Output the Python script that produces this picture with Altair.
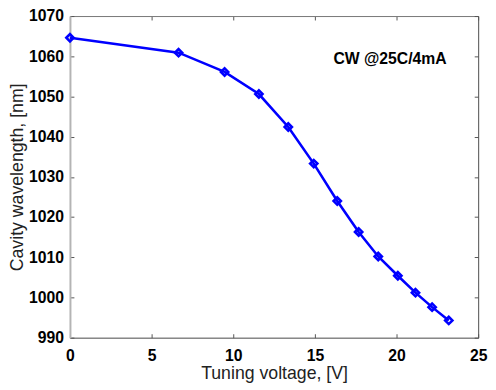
import altair as alt
import pandas as pd

voltage = [0.0, 6.65, 9.47, 11.57, 13.37, 14.93, 16.37, 17.68, 18.88, 20.08, 21.16, 22.18, 23.2]
wavelength = [1064.6, 1060.9, 1056.1, 1050.6, 1042.4, 1033.3, 1024.0, 1016.3, 1010.2, 1005.4, 1001.2, 997.6, 994.3]
x_ticks = [0, 5, 10, 15, 20, 25]
y_ticks = [990, 1000, 1010, 1020, 1030, 1040, 1050, 1060, 1070]
note = "CW @25C/4mA"
note_x = 19.6
note_y = 1059.2

df = pd.DataFrame({"v": voltage, "w": wavelength})
font = "Liberation Sans"
inward = alt.ExprRef(expr="-4")

xscale = alt.Scale(domain=[0, 25], nice=False)
yscale = alt.Scale(domain=[990, 1070], nice=False)

base = alt.Chart(df)

line = base.mark_line(color="#0000ff", strokeWidth=2.6).encode(
    x=alt.X("v:Q", scale=xscale, title="Tuning voltage, [V]",
            axis=alt.Axis(values=x_ticks, format="d", grid=False, tickSize=inward, tickColor="#555",
                          domainColor="#555", labelPadding=14, labelFont=font, labelFontSize=16,
                          labelFontWeight="bold", labelColor="black", labelFlush=False,
                          titleFont=font, titleFontSize=18, titleFontWeight="normal",
                          titleColor="#222", titleBaseline="alphabetic", titleY=42)),
    y=alt.Y("w:Q", scale=yscale, title="Cavity wavelength, [nm]",
            axis=alt.Axis(values=y_ticks, format="d", grid=False, tickSize=inward, tickColor="#555",
                          domainColor="#b4b4b4", domainWidth=2, labelPadding=10.5,
                          labelFont=font, labelFontSize=16, labelFontWeight="bold",
                          labelColor="black", labelFlush=False,
                          titleFont=font, titleFontSize=18, titleFontWeight="normal",
                          titleColor="#222", titleBaseline="alphabetic", titleX=-48)),
)

points = base.mark_point(shape="diamond", filled=False, size=55, strokeWidth=2.6,
                         color="#0000ff", opacity=1).encode(
    x=alt.X("v:Q", scale=xscale),
    y=alt.Y("w:Q", scale=yscale),
)

frame = base.mark_point(opacity=0).encode(
    x=alt.X("v:Q", scale=xscale,
            axis=alt.Axis(orient="top", values=x_ticks, grid=False, labels=False, title=None,
                          tickSize=inward, tickColor="#555", domainColor="#777")),
    y=alt.Y("w:Q", scale=yscale,
            axis=alt.Axis(orient="right", values=y_ticks, grid=False, labels=False, title=None,
                          tickSize=inward, tickColor="#555", domainColor="#555")),
)

label = alt.Chart(pd.DataFrame({"t": [note]})).mark_text(
    font=font, fontSize=16, fontWeight="bold", color="black", align="center", baseline="middle"
).encode(
    x=alt.datum(note_x),
    y=alt.datum(note_y),
    text="t:N",
)

chart = alt.layer(line + points + label, frame).resolve_axis(
    x="independent", y="independent"
).properties(
    width=415, height=327,
    autosize=alt.AutoSizeParams(type="none"),
    padding={"left": 63, "top": 5, "right": 10, "bottom": 50},
).configure_view(stroke=None).configure(background="white")

chart.save("out.html", embed_options={"renderer": "svg", "actions": False})
